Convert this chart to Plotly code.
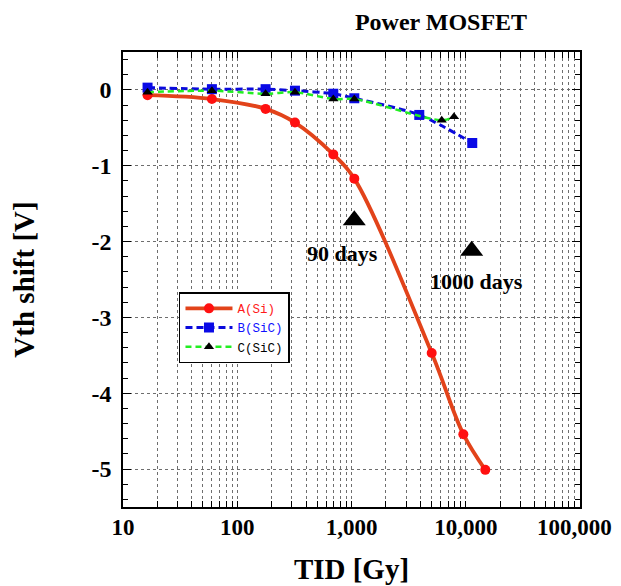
import math
import plotly.graph_objects as go

# ---- data ----
tid_a = [16.4, 60, 177, 320, 693, 1058, 5036, 9525, 14830]
vth_a = [-0.07, -0.12, -0.25, -0.43, -0.85, -1.17, -3.47, -4.54, -5.01]
tid_b = [16.4, 60, 177, 320, 693, 1058, 3920, 11400]
vth_b = [0.03, 0.01, 0.01, -0.01, -0.05, -0.11, -0.33, -0.70]
tid_c = [16.4, 60, 177, 320, 693, 1058, 6160, 7890]
vth_c = [-0.03, -0.01, -0.05, -0.03, -0.12, -0.12, -0.40, -0.355]
names = ["A(Si)", "B(SiC)", "C(SiC)"]

mark_tid = [1058, 11270]
mark_vth = [-1.72, -2.12]
mark_labels = ["90 days", "1000 days"]
label_tid = [834, 12400]
label_vth = [-2.16, -2.52]

x_tick_vals = [10, 100, 1000, 10000, 100000]
x_tick_text = ["10", "100", "1,000", "10,000", "100,000\u00a0\u00a0"]
x_minor_vals = [k * 10 ** d for d in range(1, 5) for k in range(2, 10)]
y_tick_vals = [0, -1, -2, -3, -4, -5]
y_tick_text = ["0", "-1", "-2", "-3", "-4", "-5"]

SERIF = "Liberation Serif"
MONO = "Liberation Mono"
GRID = "#6e6e6e"

# the page body has an 8px default margin, so the figure is drawn 8px in
W, H = 605, 578

fig = go.Figure()
fig.add_trace(go.Scatter(
    x=tid_a, y=vth_a, mode="lines+markers",
    name='<span style="color:#ff1a1a">' + names[0] + '</span>',
    line=dict(color="#e2431a", width=3.8, shape="spline", smoothing=1.0),
    marker=dict(symbol="circle", size=10, color="#ff1010"),
))
fig.add_trace(go.Scatter(
    x=tid_b, y=vth_b, mode="lines+markers",
    name='<span style="color:#1010ff">' + names[1] + '</span>',
    line=dict(color="#0a0adc", width=3, dash="7px,4px", shape="spline", smoothing=0.8),
    marker=dict(symbol="square", size=10, color="#0a0ae6"),
))
fig.add_trace(go.Scatter(
    x=tid_c, y=vth_c, mode="lines+markers",
    name='<span style="color:#000000">' + names[2] + '</span>',
    line=dict(color="#22ee22", width=2.5, dash="6px,4px", shape="spline", smoothing=0.8),
    marker=dict(symbol="triangle-up", size=9, color="#000000"),
))
fig.add_trace(go.Scatter(
    x=mark_tid, y=mark_vth, mode="markers", showlegend=False,
    marker=dict(symbol="triangle-up", size=20, color="#000000"),
    hoverinfo="skip",
))

for lbl, tx, ty in zip(mark_labels, label_tid, label_vth):
    fig.add_annotation(
        x=math.log10(tx), y=ty, xref="x", yref="y", text=lbl, showarrow=False,
        font=dict(family=SERIF, size=22, color="#000000", weight="bold"),
        xanchor="center", yanchor="middle",
    )

fig.update_layout(
    width=W, height=H,
    margin=dict(l=115, r=33, t=44, b=79, autoexpand=False),
    paper_bgcolor="white", plot_bgcolor="white",
    title=dict(text="Power MOSFET", x=(441 - 8) / W, xanchor="center",
               y=1 - (21.5 - 8) / H, yanchor="middle",
               font=dict(family=SERIF, size=24, color="#000000", weight="bold")),
    legend=dict(x=0.1225, y=0.472, xanchor="left", yanchor="top",
                bgcolor="white", bordercolor="#000000", borderwidth=1.5,
                font=dict(family=MONO, size=12.5, color="#000000"),
                itemwidth=47, tracegroupgap=0),
    showlegend=True,
)

fig.update_xaxes(
    type="log", range=[1, 5], automargin=False,
    tickmode="array", tickvals=x_tick_vals, ticktext=x_tick_text,
    ticks="inside", ticklen=6, tickcolor="#000000", tickwidth=1,
    showline=True, linecolor="#000000", linewidth=1.5, mirror="allticks",
    showgrid=True, gridcolor=GRID, griddash="dot", gridwidth=1,
    minor=dict(tickmode="array", tickvals=x_minor_vals, ticks="inside", ticklen=6,
               tickcolor="#000000", showgrid=True, gridcolor=GRID, griddash="dot", gridwidth=1),
    tickfont=dict(family=SERIF, size=23, color="#000000", weight="bold"),
    ticklabelstandoff=-1, ticklabeloverflow="allow",
    title=dict(text="TID [Gy]", standoff=19,
               font=dict(family=SERIF, size=29, color="#000000", weight="bold")),
    zeroline=False,
)
fig.update_yaxes(
    range=[-5.5, 0.5], automargin=False,
    tickmode="array", tickvals=y_tick_vals, ticktext=y_tick_text,
    ticks="inside", ticklen=8, tickcolor="#000000", tickwidth=1,
    showline=True, linecolor="#000000", linewidth=1.5, mirror="allticks",
    showgrid=True, gridcolor=GRID, griddash="dot", gridwidth=1,
    minor=dict(dtick=0.2, ticks="inside", ticklen=5, tickcolor="#000000", showgrid=False),
    tickfont=dict(family=SERIF, size=24, color="#000000", weight="bold"),
    ticklabelstandoff=5,
    title=dict(text="Vth shift [V]", standoff=51,
               font=dict(family=SERIF, size=29, color="#000000", weight="bold")),
    zeroline=False,
)

fig.write_html("out.html")
